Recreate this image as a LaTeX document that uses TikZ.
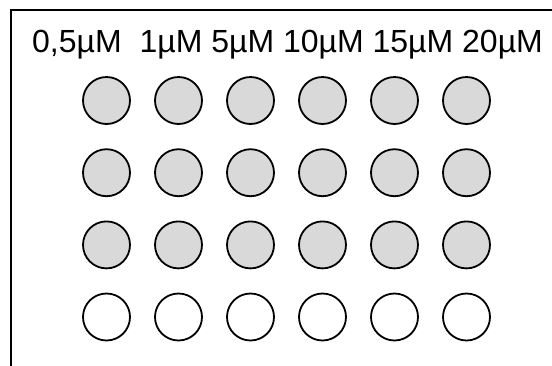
\documentclass[tikz,border=0pt]{standalone}
\usepackage{fontspec}
\setmainfont{Liberation Sans}
\usetikzlibrary{positioning}

\tikzset{
  well/.style={circle, draw=black, line width=1.8pt, minimum size=47pt, inner sep=0pt},
  fullwell/.style={well, fill=black!15},
  emptywell/.style={well, fill=white},
}

\begin{document}
\begin{tikzpicture}[x=1pt,y=-1pt]
\useasboundingbox (0,0) rectangle (552,365);
\coordinate (corner) at (11,10);
\coordinate (bottom) at (11,366);
\coordinate (right) at (553,10);

% plate edge
\draw[line width=2pt] (bottom) -- (corner) -- (right);

% concentrations
\node[anchor=base west, inner sep=0pt, font=\fontsize{32}{38}\selectfont]
    (conc) at (32,52) {0,5µM\ \ 1µM 5µM 10µM 15µM 20µM};

% wells
\foreach \r in {1,2,3} {
  \foreach \c in {1,...,6} {
    \node[fullwell] (w\r\c) at ({106.5+72*(\c-1)},{100.5+72.2*(\r-1)}) {};
  }
}
\foreach \c in {1,...,6} {
  \node[emptywell] (w4\c) at ({106.5+72*(\c-1)},317) {};
}
\end{tikzpicture}
\end{document}
